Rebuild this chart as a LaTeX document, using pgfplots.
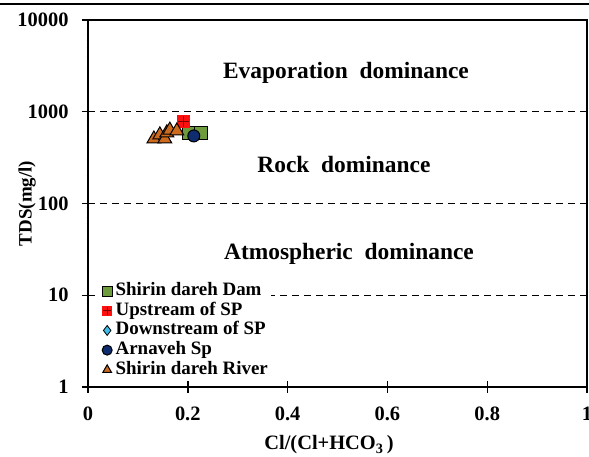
\documentclass[border=0pt]{standalone}
\usepackage{fontspec}
\setmainfont{Liberation Serif}
\usepackage{pgfplots}
\pgfplotsset{compat=1.18}

\definecolor{damgreen}{HTML}{6E9B3C}
\definecolor{upred}{HTML}{FF1010}
\definecolor{upplus}{HTML}{7A0000}
\definecolor{downblue}{HTML}{3CBDEB}
\definecolor{arnnavy}{HTML}{0E2C6E}
\definecolor{riverorange}{HTML}{CC6A1E}

% filled square with a cross inside
\pgfdeclareplotmark{sqplus}{%
  \pgfpathrectangle{\pgfqpoint{-\pgfplotmarksize}{-\pgfplotmarksize}}%
    {\pgfqpoint{2\pgfplotmarksize}{2\pgfplotmarksize}}%
  \pgfusepathqfill
  \pgfpathmoveto{\pgfqpoint{-0.8\pgfplotmarksize}{0pt}}%
  \pgfpathlineto{\pgfqpoint{0.8\pgfplotmarksize}{0pt}}%
  \pgfpathmoveto{\pgfqpoint{0pt}{-0.8\pgfplotmarksize}}%
  \pgfpathlineto{\pgfqpoint{0pt}{0.8\pgfplotmarksize}}%
  \pgfusepathqstroke
}

\newcommand{\lbl}{\bfseries\fontsize{19}{22}\selectfont}
\newcommand{\tck}{\bfseries\fontsize{20.5}{24}\selectfont}
\newcommand{\zone}{\bfseries\fontsize{23.5}{27}\selectfont}

\begin{document}
\begin{tikzpicture}
\useasboundingbox (-88bp,-70bp) rectangle (501bp,387bp);
\draw[line width=1.2bp] (-88bp,383bp) -- (501bp,383bp);
\begin{axis}[
  at={(0,0)}, anchor=south west,
  scale only axis,
  width=499bp, height=367bp,
  xmin=0, xmax=1,
  ymode=log, ymin=1, ymax=10000,
  xtick={0,0.2,0.4,0.6,0.8,1},
  xticklabels={0,0.2,0.4,0.6,0.8,1},
  ytick={1,10,100,1000,10000},
  yticklabels={1,10,100,1000,10000},
  minor ytick={},
  log ticks with fixed point,
  /pgf/number format/assume math mode=true,
  tick label style={font=\tck},
  xticklabel style={yshift=-10bp},
  yticklabel style={xshift=-10bp},
  tick align=center,
  major tick length=12bp,
  tick style={black, line width=1.4bp},
  xtick pos=bottom, ytick pos=left,
  axis line style={black, line width=1.6bp},
  xlabel={Cl/(Cl+HCO$_{\mathbf{3}}$\,)},
  xlabel style={font=\tck, at={(axis description cs:0.483,-0.158)}, anchor=center},
  ylabel={TDS(mg/l)},
  ylabel style={font=\lbl, at={(axis description cs:-0.122,0.5)}, anchor=center, rotate=0},
  clip=false,
  legend style={
    at={(rel axis cs:0.022,0.292)}, anchor=north west,
    draw=none, fill=white, font=\lbl,
    inner xsep=3bp, inner ysep=2bp,
    row sep=1.7bp,
    nodes={inner sep=0.5bp, text height=13bp, text depth=4bp},
  },
  legend cell align=left,
  legend image code/.code={%
    \draw[#1, mark size=5bp] plot coordinates {(0bp,0bp)};
    \path[draw=none, fill=none] (-5bp,0bp) rectangle (8bp,0bp);
  },
]
% boundaries between the dominance fields
\draw[dashed, dash pattern=on 7bp off 5bp, line width=1.4bp]
  (rel axis cs:0,0.75) -- (rel axis cs:1,0.75);
\draw[dashed, dash pattern=on 7bp off 5bp, line width=1.4bp]
  (rel axis cs:0,0.5) -- (rel axis cs:1,0.5);
\draw[dashed, dash pattern=on 7bp off 5bp, line width=1.4bp]
  (rel axis cs:0,0.25) -- (rel axis cs:1,0.25);

\node[font=\zone] at (rel axis cs:0.517,0.856) {Evaporation\ \ dominance};
\node[font=\zone] at (rel axis cs:0.513,0.605) {Rock\ \ dominance};
\node[font=\zone] at (rel axis cs:0.523,0.363) {Atmospheric\ \ dominance};

\addplot[only marks, mark=square*, mark size=6.5bp,
  mark options={fill=damgreen, draw=black, line width=1bp}]
  coordinates {(0.202,590) (0.226,585)};
\addlegendentry{Shirin dareh Dam}

\addplot[only marks, mark=sqplus, mark size=6.5bp,
  mark options={fill=upred, draw=upplus, line width=1.3bp}]
  coordinates {(0.191,780)};
\addlegendentry{Upstream of SP}

\addplot[only marks, mark=diamond*, mark size=5bp,
  mark options={fill=downblue, draw=black, line width=0.8bp}]
  coordinates {(0.166,630)};
\addlegendentry{Downstream of SP}

\addplot[only marks, mark=*, mark size=6bp,
  mark options={fill=arnnavy, draw=black, line width=1bp}]
  coordinates {(0.212,545)};
\addlegendentry{Arnaveh Sp}

\addplot[only marks, mark=triangle*, mark size=8bp,
  mark options={fill=riverorange, draw=black, line width=1bp}]
  coordinates {(0.132,505) (0.144,560) (0.154,505) (0.158,590)
               (0.164,630) (0.178,617)};
\addlegendentry{Shirin dareh River}
\end{axis}
\end{tikzpicture}
\end{document}
